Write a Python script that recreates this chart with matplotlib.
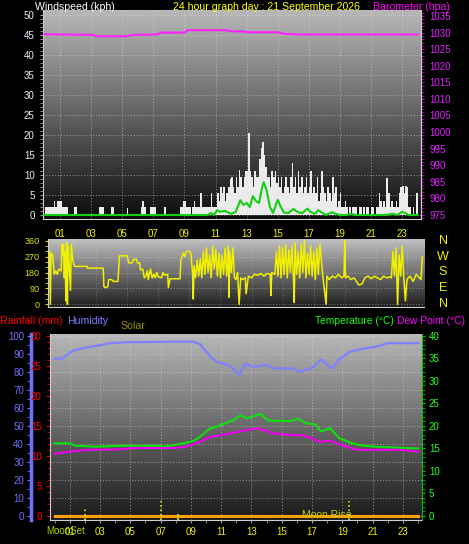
import numpy as np
import matplotlib.pyplot as plt

plt.rcParams['font.family'] = ['Liberation Sans', 'DejaVu Sans']

W, H = 469, 544

# x axis labels (odd hours)
tick_hours = [1, 3, 5, 7, 9, 11, 13, 15, 17, 19, 21, 23]
tick_labels = ['01', '03', '05', '07', '09', '11', '13', '15', '17', '19', '21', '23']

# wind gust, one value every 6 minutes, one row per hour (kph)
gust_rows = [
    [2, 2, 2, 2, 2, 2, 3.5, 2, 3.5, 3.5],
    [3.5, 2, 2, 2, 2, 0, 0, 0, 0, 2],
    [2, 0, 0, 0, 0, 0, 0, 0, 0, 0],
    [0, 0, 0, 0, 0, 2, 2, 2, 0, 0],
    [0, 0, 0, 2, 2, 0, 0, 0, 0, 0],
    [0, 0, 0, 1.7, 0, 0, 0, 0, 0, 0],
    [0, 0, 2, 3.5, 2, 0, 0, 0, 2, 2],
    [2, 2, 0, 0, 0, 0, 0, 2, 0, 0],
    [0, 0, 0, 0, 0, 0, 0, 2, 2, 3.5],
    [3.5, 2, 2, 2, 0, 2, 3.5, 2, 2, 2],
    [5.6, 2, 2, 2, 2, 2, 2, 5.6, 2, 2],
    [2, 5.6, 3.5, 7, 5.6, 7, 3.5, 5.6, 7, 9],
    [9.6, 7, 5.6, 9.6, 7, 11.3, 9.6, 7, 9.6, 11],
    [11, 20.5, 11, 9.6, 7, 11, 9.6, 9.6, 14, 16.7],
    [18.3, 15, 12, 9.6, 9.6, 7, 11, 9.6, 11, 8],
    [9.6, 7, 9.6, 5.6, 7, 9.6, 7, 5.6, 9.6, 13],
    [7, 9.6, 5.6, 11, 7, 9.6, 5.6, 7, 9.6, 5.6],
    [7, 11, 5.6, 7, 5.6, 9.6, 3.5, 5.6, 11, 7],
    [5.6, 3.5, 7, 5.6, 3.5, 9.6, 5.6, 7, 2, 3.5],
    [5.6, 2, 2, 3.5, 2, 0, 2, 0, 2, 2],
    [2, 0, 2, 2, 0, 2, 0, 2, 2, 0],
    [2, 2, 0, 2, 2, 5.6, 3.5, 2, 3.5, 2],
    [9.3, 5.6, 2, 3.5, 2, 2, 3.5, 2, 5.6, 7],
    [7.2, 5.6, 7.2, 7, 2, 2, 0, 2, 0, 5.6],
]
gust = np.array(gust_rows).ravel()
gust_hours = np.arange(len(gust)) * 0.1 + 0.05

# average wind speed (kph)
avg_hours = [0, 10.5, 10.7, 10.9, 11.1, 11.3, 11.6, 12.0, 12.3, 12.6, 12.8, 13.0, 13.2,
             13.4, 13.6, 13.8, 14.0, 14.1, 14.3, 14.5, 14.7, 15.0, 15.2, 15.4, 15.7,
             16.0, 16.3, 16.6, 16.9, 17.1, 17.4, 17.6, 17.9, 18.1, 18.5, 18.8, 19.0,
             19.4, 19.7, 20.0, 20.5, 22.0, 22.4, 22.7, 23.0, 23.2, 23.4, 24.0]
avg_wind = [0, 0, 0.5, 0, 1.2, 0.8, 1.0, 0.3, 0.8, 3.7, 2.5, 3.0, 2.0,
            4.7, 3.5, 3.0, 7.0, 8.2, 6.0, 2.0, 0.5, 3.8, 2.0, 0.6, 0.5,
            1.5, 0.7, 0.5, 1.6, 0.8, 0.3, 1.2, 0.5, 0, 0.7, 0.2, 0,
            0, 0.3, 0, 0, 0, 0.3, 0, 0.8, 0.5, 0, 0]

# barometer (hPa)
baro_hours = [0, 1, 3.1, 3.3, 5.3, 5.7, 7.2, 7.5, 9.0, 9.2, 11.7, 12.0, 12.8, 13.0,
              15.0, 15.4, 16.5, 24.0]
baro = [1029.5, 1029.4, 1029.3, 1028.9, 1028.9, 1029.3, 1029.4, 1030.0, 1030.0,
        1030.7, 1030.7, 1030.4, 1030.3, 1030.1, 1030.1, 1029.6, 1029.4, 1029.4]

# wind direction (degrees)
dir_hours = [0.0, 0.05, 0.1, 0.2, 0.3, 0.4, 0.5, 0.6, 0.75, 0.8, 0.85, 0.9, 0.95,
             1.0, 1.05, 1.1, 1.15, 1.2, 1.25, 1.35, 1.4, 1.5, 1.6, 2.4, 2.45,
             3.45, 3.5, 3.6, 3.75, 3.8, 4.0, 4.1, 4.4, 4.5, 5.0, 5.1, 5.3, 5.4,
             5.6, 5.65, 5.8, 5.85, 6.0, 6.1, 6.2, 6.3, 6.35, 6.5, 6.6, 6.7, 6.8,
             6.9, 7.0, 7.2, 7.3, 7.4, 7.6, 7.65, 7.75, 8.4, 8.45, 8.6, 8.7, 8.8,
             9.0, 9.1, 9.2, 9.25, 9.3, 9.4, 9.5, 9.6, 9.7, 9.8, 9.9, 10.0, 10.1,
             10.2, 10.3, 10.4, 10.5, 10.6, 10.7, 10.8, 10.9, 11.0, 11.1, 11.2,
             11.3, 11.4, 11.5, 11.55, 11.6, 11.7, 11.8, 11.9, 12.0, 12.1, 12.2,
             12.3, 12.4, 12.6, 12.65, 12.8, 13.0, 13.2, 13.4, 13.6, 13.8, 14.0,
             14.2, 14.25, 14.3, 14.5, 14.6, 14.7, 14.8, 14.9, 15.0, 15.1, 15.2,
             15.3, 15.4, 15.5, 15.6, 15.7, 15.75, 15.8, 15.9, 16.0, 16.1, 16.2,
             16.3, 16.4, 16.5, 16.6, 16.7, 16.8, 16.9, 17.0, 17.1, 17.2, 17.3,
             17.4, 17.6, 17.8, 17.85, 18.0, 18.2, 18.4, 18.6, 18.8, 18.95, 19.0,
             19.05, 19.2, 19.4, 19.6, 19.9, 20.1, 20.3, 20.5, 20.7, 20.9, 21.1,
             21.3, 21.5, 21.7, 21.9, 22.0, 22.1, 22.2, 22.3, 22.4, 22.5, 22.6,
             22.7, 22.8, 22.9, 23.0, 23.2, 23.4, 23.6, 23.8, 23.9, 24.0]
dir_deg = [300, 0, 290, 280, 170, 190, 170, 200, 190, 340, 280, 340, 150,
           300, 20, 350, 0, 330, 250, 80, 340, 250, 215, 215, 205,
           205, 100, 95, 100, 140, 140, 130, 130, 275, 275, 235, 235, 255,
           255, 235, 235, 195, 200, 150, 160, 190, 140, 200, 150, 170, 150,
           180, 155, 150, 180, 165, 170, 95, 145, 145, 250, 290, 270, 300,
           300, 290, 180, 30, 220, 150, 250, 160, 260, 150, 300, 170, 320,
           180, 280, 150, 330, 200, 310, 160, 290, 150, 280, 170,
           320, 160, 330, 40, 300, 180, 320, 150, 140, 180, 0,
           150, 140, 150, 60, 160, 150, 170, 165, 175, 160, 175,
           170, 50, 180, 170, 300, 160, 330, 150, 320, 170, 340,
           150, 310, 180, 330, 140, 10, 350, 170, 300, 150, 340,
           180, 360, 150, 290, 170, 330, 160, 300, 140, 320, 170,
           340, 150, 0, 160, 140, 160, 150, 170, 150, 160, 360,
           150, 160, 140, 150, 110, 115, 150, 160, 145, 160, 150,
           140, 160, 150, 155, 150, 300, 160, 320, 0, 280, 160,
           330, 150, 20, 140, 160, 130, 170, 150, 140, 270]

# humidity (%)
hum_hours = [0, 0.5, 1.2, 2.0, 2.8, 3.7, 4.8, 8.7, 9.1, 9.6, 10.3, 10.7, 11.4, 11.8,
             12.2, 12.6, 13.1, 14.0, 14.4, 15.7, 16.2, 17.1, 17.6, 18.3, 18.8, 19.5,
             20.4, 21.2, 22.0, 24.0]
humidity = [87.4, 87.4, 91.8, 93.5, 94.6, 96.0, 96.5, 96.9, 96.9, 95.5, 88.5, 85.7,
            84.0, 82.0, 78.3, 84.6, 82.8, 84.0, 82.0, 82.0, 80.0, 82.8, 87.0, 82.0,
            87.0, 91.2, 93.0, 94.0, 96.0, 96.0]

# temperature (C)
temp_hours = [0, 1.0, 1.4, 2.8, 4.3, 7.0, 7.2, 8.3, 9.2, 9.6, 10.2, 10.9, 11.8, 12.3,
              12.7, 13.6, 14.1, 15.6, 16.1, 16.6, 17.2, 17.6, 18.2, 18.8, 19.7, 20.4,
              21.2, 24.0]
temperature = [16.15, 16.15, 15.6, 15.4, 15.6, 15.6, 15.4, 16.0, 16.7, 17.6, 19.3, 20.1,
               21.3, 22.4, 21.7, 22.7, 21.2, 21.1, 21.6, 20.6, 20.4, 18.8, 19.5, 17.3,
               16.1, 15.6, 15.4, 15.0]

# dew point (C)
dew_hours = [0, 1.0, 2.2, 4.3, 5.2, 7.9, 8.7, 9.6, 10.3, 11.1, 11.8, 12.7, 13.4, 14.0,
             14.4, 15.5, 16.2, 16.8, 17.5, 18.2, 19.1, 20.0, 21.0, 22.8, 24.0]
dew_point = [13.8, 14.3, 14.7, 14.8, 15.1, 15.1, 15.4, 16.5, 17.6, 18.0, 18.5, 19.1,
             19.5, 18.9, 18.4, 18.0, 18.0, 17.5, 16.5, 16.7, 15.6, 14.7, 14.7, 14.7, 14.3]

# rainfall (mm)
rain_hours = [0, 24]
rainfall = [0, 0]

# event markers in bottom panel (hour, top in degC)
event_hours = [2.0, 7.03, 19.45]
event_tops = [1.55, 3.3, 3.3]
solar_hours = [8.15]
solar_tops = [0.45]


def shade(ax, top, bottom):
    grad = np.linspace(top, bottom, 256)[:, None]
    ax.imshow(grad, cmap='gray', vmin=0, vmax=1, extent=[0, 1, 0, 1],
              transform=ax.transAxes, aspect='auto', zorder=0, interpolation='bilinear')


def grid_style(ax):
    ax.grid(True, color='#d8d8d8', linestyle=(0, (1, 2)), linewidth=0.7, alpha=0.6)
    ax.set_axisbelow(False)


fig = plt.figure(figsize=(W / 100, H / 100), dpi=100, facecolor='black')

# ---------------- wind / barometer ----------------
ax1 = fig.add_axes([43 / W, 1 - 219 / H, 378 / W, 209 / H])
shade(ax1, 0.72, 0.05)
ax1.bar(gust_hours, gust, width=0.1, color='#ececec', linewidth=0, zorder=2)
ax1.plot(avg_hours, avg_wind, color='#10d010', lw=1.5, zorder=3)
ax1.set_xlim(-0.1, 24.22)
ax1.set_ylim(-1, 51.25)
ax1.set_yticks(range(0, 51, 5))
ax1.set_yticks(range(0, 51, 1), minor=True)
ax1.set_xticks(tick_hours)
ax1.set_xticklabels(tick_labels)
ax1.tick_params(axis='x', colors='#f0f000', labelsize=7, length=0, pad=7)
ax1.tick_params(axis='y', which='both', colors='#a0a0a0', labelcolor='#e8eeff',
                labelsize=7, length=2, pad=4)
grid_style(ax1)
for s in ax1.spines.values():
    s.set_color('#d0d0d0')
ax1.spines['top'].set_visible(False)

ax1b = ax1.twinx()
ax1b.plot(baro_hours, baro, color='#ff20ff', lw=1.5, zorder=3)
ax1b.set_ylim(973.8, 1036.8)
ax1b.set_yticks(range(975, 1036, 5))
ax1b.set_yticks(range(974, 1037, 1), minor=True)
ax1b.tick_params(axis='y', which='both', colors='#c000c0', labelcolor='#e020ff',
                 labelsize=7, length=2, pad=4)
ax1b.spines['right'].set_color('#d0d0d0')
for k in ['top', 'left', 'bottom']:
    ax1b.spines[k].set_visible(False)

fig.text(35 / W, 1 - 7 / H, 'Windspeed (kph)', color='white', fontsize=7.6, va='center')
fig.text(173 / W, 1 - 7 / H, '24 hour graph day : 21 September 2026', color='#ffff00',
         fontsize=7.6, va='center')
fig.text(373 / W, 1 - 7 / H, 'Barometer (hpa)', color='#ff00ff', fontsize=7.6, va='center')

# ---------------- wind direction ----------------
ax2 = fig.add_axes([48 / W, 1 - 307 / H, 376 / W, 68 / H])
shade(ax2, 0.75, 0.12)
ax2.plot(dir_hours, dir_deg, color='#f0f000', lw=1.1, zorder=3)
ax2.set_xlim(-0.1, 24.1)
ax2.set_ylim(-15, 370)
ax2.set_yticks([0, 90, 180, 270, 360])
ax2.set_yticks(range(0, 361, 30), minor=True)
ax2.set_xticks(tick_hours)
ax2.tick_params(axis='x', length=0, labelbottom=False)
ax2.tick_params(axis='y', which='both', colors='#e0e000', labelsize=6.5, length=2, pad=4)
ax2.grid(True, axis='y', color='#d8d8d8', linestyle=(0, (1, 2)), linewidth=0.7, alpha=0.5)
ax2.grid(True, axis='x', color='#d8d8d8', linestyle=(0, (1, 2)), linewidth=0.7, alpha=0.3)
for s in ax2.spines.values():
    s.set_color('#d0d0d0')
ax2.spines['top'].set_visible(False)
ax2.spines['right'].set_visible(False)
for lab, y in zip(['N', 'W', 'S', 'E', 'N'], [241, 257, 272, 288, 304]):
    fig.text(443 / W, 1 - y / H, lab, color='#f0f000', fontsize=9, ha='center', va='center')

# ---------------- humidity / rain / temperature ----------------
ax3 = fig.add_axes([50 / W, 1 - 520 / H, 372 / W, 186 / H])
shade(ax3, 0.72, 0.1)
ax3.plot(hum_hours, humidity, color='#8080ff', lw=1.6, zorder=3)
ax3.set_xlim(-0.3, 24.26)
ax3.set_ylim(-2.2, 101.1)
ax3.set_yticks(range(0, 101, 10))
ax3.set_yticks(range(0, 101, 5), minor=True)
ax3.set_xticks(tick_hours)
ax3.set_xticklabels(tick_labels)
ax3.set_xticks(range(0, 25), minor=True)
ax3.tick_params(axis='x', which='both', colors='#a0a0a0', labelcolor='#f0f000',
                labelsize=7, length=2, pad=3)
ax3.tick_params(axis='y', which='both', colors='#7070ff', labelcolor='#7070ff',
                labelsize=7, length=3, pad=2)
grid_style(ax3)
ax3.spines['left'].set_position(('axes', -19 / 372))
ax3.spines['left'].set_color('#7070ff')
ax3.spines['left'].set_linewidth(2.5)
ax3.spines['bottom'].set_color('#d0d0d0')
ax3.spines['top'].set_visible(False)
ax3.spines['right'].set_visible(False)

axR = ax3.twinx()
axR.plot(rain_hours, rainfall, color='#ffa000', lw=2.2, zorder=4)
axR.set_ylim(-0.67, 30.33)
axR.yaxis.tick_left()
axR.set_yticks(range(0, 31, 5))
axR.set_yticks(range(0, 31, 1), minor=True)
axR.tick_params(axis='y', which='both', colors='#e00000', labelcolor='#ff0000',
                labelsize=7, length=3, pad=3)
axR.tick_params(axis='y', which='minor', length=2)
axR.spines['left'].set_color('#d0d0d0')
for k in ['top', 'right', 'bottom']:
    axR.spines[k].set_visible(False)

axT = ax3.twinx()
axT.plot(temp_hours, temperature, color='#10e010', lw=1.5, zorder=4)
axT.plot(dew_hours, dew_point, color='#f000f0', lw=1.5, zorder=4)
axT.vlines(event_hours, -0.89, event_tops, color='#e8e800', lw=1.2, linestyles=':', zorder=5)
axT.vlines(solar_hours, -0.89, solar_tops, color='#c8c800', lw=1.5, zorder=5)
axT.set_ylim(-0.89, 40.44)
axT.set_yticks(range(0, 41, 5))
axT.set_yticks(range(0, 41, 1), minor=True)
axT.tick_params(axis='y', which='both', colors='#00c000', labelcolor='#20ff20',
                labelsize=7, length=2, pad=3)
axT.spines['right'].set_color('#00c000')
for k in ['top', 'left', 'bottom']:
    axT.spines[k].set_visible(False)

fig.text(0, 1 - 321 / H, 'Rainfall (mm)', color='#ff0000', fontsize=7.6, va='center')
fig.text(67 / W, 1 - 321 / H, 'Humidity', color='#8080ff', fontsize=7.6, va='center')
fig.text(120 / W, 1 - 326 / H, 'Solar', color='#909000', fontsize=7.6, va='center')
fig.text(315 / W, 1 - 321 / H, 'Temperature (\u00b0C)', color='#10ff10', fontsize=7.4, va='center')
fig.text(397 / W, 1 - 321 / H, 'Dew Point (\u00b0C)', color='#ff00ff', fontsize=7.4, va='center')
fig.text(302 / W, 1 - 515 / H, 'Moon Rise', color='#c8c800', fontsize=7.5, va='center')
fig.text(46 / W, 1 - 531 / H, 'MoonSet', color='#a8d800', fontsize=7, va='center')

fig.savefig('out.png', dpi=100, facecolor='black')
